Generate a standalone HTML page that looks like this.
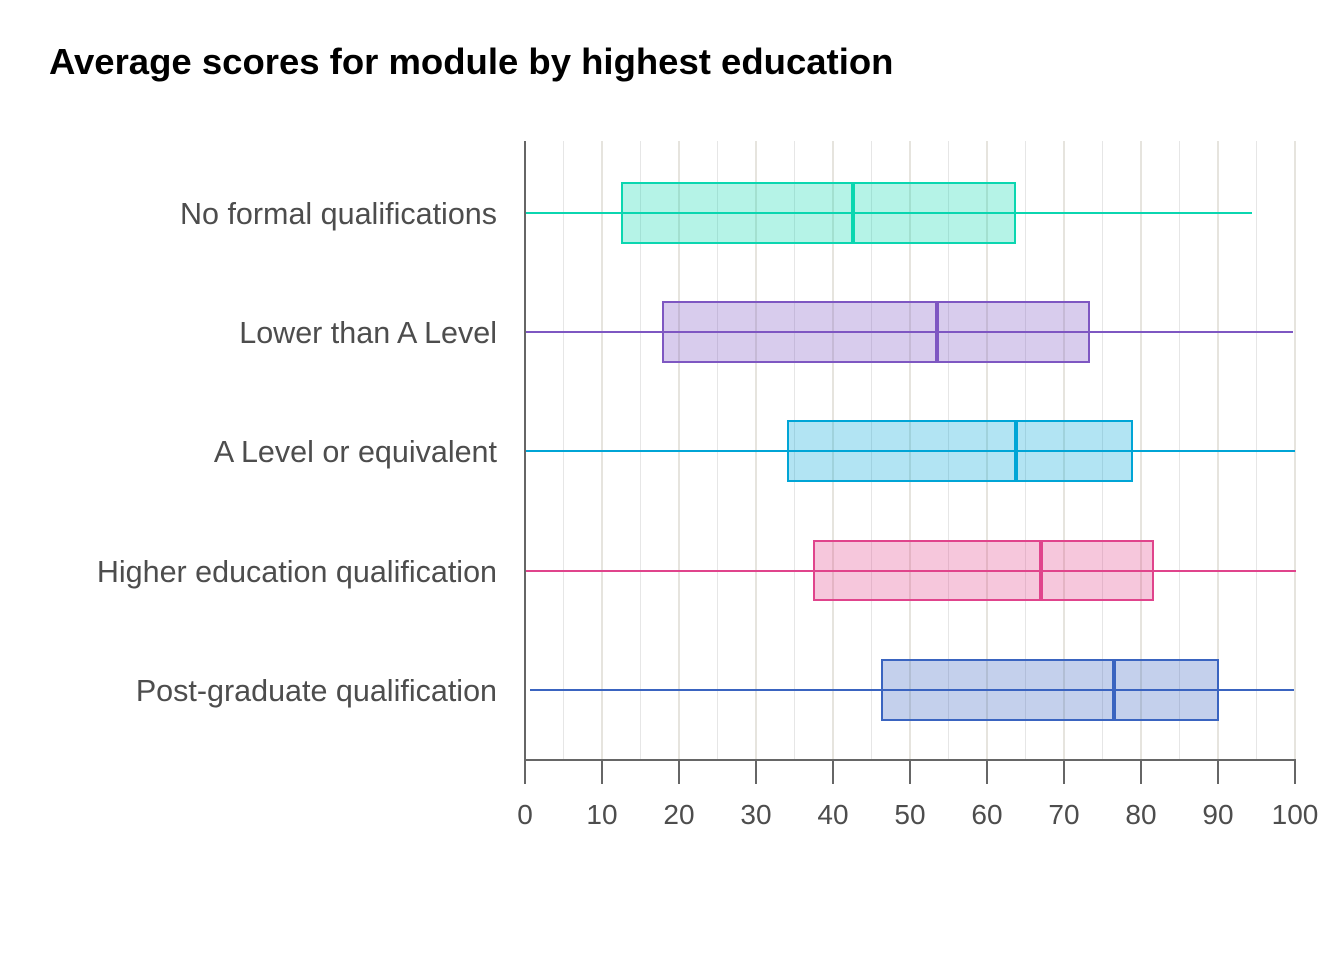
<!DOCTYPE html><html><head><style>body{margin:0;background:#fff}</style></head><body>
<svg width="1344" height="960" xmlns="http://www.w3.org/2000/svg" font-family="'Source Sans Pro','Liberation Sans',sans-serif">
<text x="49" y="74" font-size="36.5" font-weight="bold" fill="#000">Average scores for module by highest education</text>
<g stroke-width="1">
<g stroke="#e6e6e6">
<line x1="563.5" y1="141" x2="563.5" y2="760"/><line x1="640.5" y1="141" x2="640.5" y2="760"/><line x1="717.5" y1="141" x2="717.5" y2="760"/><line x1="794.5" y1="141" x2="794.5" y2="760"/><line x1="871.5" y1="141" x2="871.5" y2="760"/><line x1="948.5" y1="141" x2="948.5" y2="760"/><line x1="1025.5" y1="141" x2="1025.5" y2="760"/><line x1="1102.5" y1="141" x2="1102.5" y2="760"/><line x1="1179.5" y1="141" x2="1179.5" y2="760"/><line x1="1256.5" y1="141" x2="1256.5" y2="760"/>
</g>
<g stroke="#cccabc">
<line x1="602" y1="141" x2="602" y2="760"/><line x1="679" y1="141" x2="679" y2="760"/><line x1="756" y1="141" x2="756" y2="760"/><line x1="833" y1="141" x2="833" y2="760"/><line x1="910" y1="141" x2="910" y2="760"/><line x1="987" y1="141" x2="987" y2="760"/><line x1="1064" y1="141" x2="1064" y2="760"/><line x1="1141" y1="141" x2="1141" y2="760"/><line x1="1218" y1="141" x2="1218" y2="760"/><line x1="1295" y1="141" x2="1295" y2="760"/>
</g></g>
<g stroke-width="2">
<line x1="525" y1="213" x2="1252" y2="213" stroke="#0bd6b0"/>
<rect x="622" y="183" width="393" height="60" fill="rgba(11,214,176,0.3)" stroke="#0bd6b0"/>
<line x1="853" y1="183" x2="853" y2="243" stroke="#0bd6b0" stroke-width="4"/>
<line x1="525" y1="332" x2="1293" y2="332" stroke="#7e57c2"/>
<rect x="663" y="302" width="426" height="60" fill="rgba(126,87,194,0.3)" stroke="#7e57c2"/>
<line x1="937" y1="302" x2="937" y2="362" stroke="#7e57c2" stroke-width="4"/>
<line x1="525" y1="451" x2="1295" y2="451" stroke="#00a5d6"/>
<rect x="788" y="421" width="344" height="60" fill="rgba(0,165,214,0.3)" stroke="#00a5d6"/>
<line x1="1016" y1="421" x2="1016" y2="481" stroke="#00a5d6" stroke-width="4"/>
<line x1="525" y1="571" x2="1296" y2="571" stroke="#e0448c"/>
<rect x="814" y="541" width="339" height="59" fill="rgba(224,68,140,0.3)" stroke="#e0448c"/>
<line x1="1041" y1="541" x2="1041" y2="600" stroke="#e0448c" stroke-width="4"/>
<line x1="530" y1="690" x2="1294" y2="690" stroke="#3a64c0"/>
<rect x="882" y="660" width="336" height="60" fill="rgba(58,100,192,0.3)" stroke="#3a64c0"/>
<line x1="1114" y1="660" x2="1114" y2="720" stroke="#3a64c0" stroke-width="4"/>
</g>
<g stroke="#666" stroke-width="2">
<line x1="525" y1="141" x2="525" y2="784"/><line x1="524" y1="760" x2="1296" y2="760"/>
<line x1="602" y1="760" x2="602" y2="784"/><line x1="679" y1="760" x2="679" y2="784"/><line x1="756" y1="760" x2="756" y2="784"/><line x1="833" y1="760" x2="833" y2="784"/><line x1="910" y1="760" x2="910" y2="784"/><line x1="987" y1="760" x2="987" y2="784"/><line x1="1064" y1="760" x2="1064" y2="784"/><line x1="1141" y1="760" x2="1141" y2="784"/><line x1="1218" y1="760" x2="1218" y2="784"/><line x1="1295" y1="760" x2="1295" y2="784"/>
</g>
<g font-size="28" fill="#4d4d4d" text-anchor="middle">
<text x="525" y="824">0</text><text x="602" y="824">10</text><text x="679" y="824">20</text><text x="756" y="824">30</text><text x="833" y="824">40</text><text x="910" y="824">50</text><text x="987" y="824">60</text><text x="1064" y="824">70</text><text x="1141" y="824">80</text><text x="1218" y="824">90</text><text x="1295" y="824">100</text>
</g>
<g font-size="30.5" fill="#4d4d4d" text-anchor="end">
<text x="497" y="224">No formal qualifications</text>
<text x="497" y="343">Lower than A Level</text>
<text x="497" y="462">A Level or equivalent</text>
<text x="497" y="582">Higher education qualification</text>
<text x="497" y="701">Post-graduate qualification</text>
</g>
</svg></body></html>
